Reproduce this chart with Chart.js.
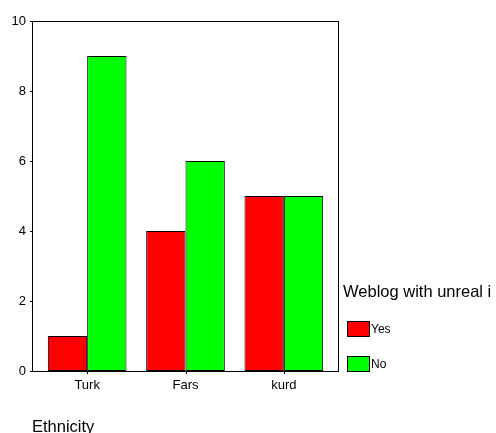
<!DOCTYPE html>
<html>
<head>
<meta charset="utf-8">
<script src="https://cdn.jsdelivr.net/npm/chart.js@4"></script>
<style>
  body { margin: 0; background: #fff; }
  canvas { display: block; }
</style>
</head>
<body>
<canvas id="chart" width="496" height="433"></canvas>
<script>
const categories = ['Turk', 'Fars', 'kurd'];
const yesCounts = [1, 4, 5];
const noCounts = [9, 6, 5];
const yTicks = [0, 2, 4, 6, 8, 10];
const legendTitle = 'Weblog with unreal i';
const axisTitle = 'Ethnicity';

const FONT = '"Liberation Sans", Arial, sans-serif';

// frame, axis ticks, legend and x title drawn by hand (SPSS look)
const spssDecor = {
  id: 'spssDecor',
  beforeDatasetsDraw(chart) {
    const c = chart.ctx;
    const area = chart.chartArea;
    const y = chart.scales.y;
    const x = chart.scales.x;
    const left = area.left - 6, right = area.right + 5;
    c.save();
    c.strokeStyle = '#000';
    c.lineWidth = 1;
    c.strokeRect(left + 0.5, area.top + 0.5, right - left, area.bottom - area.top);
    c.beginPath();
    yTicks.forEach(v => {
      const py = Math.round(y.getPixelForValue(v)) + 0.5;
      c.moveTo(left - 2, py);
      c.lineTo(left, py);
    });
    categories.forEach((_, i) => {
      const px = Math.round(x.getPixelForTick(i)) + 0.5;
      c.moveTo(px, area.bottom);
      c.lineTo(px, area.bottom + 3);
    });
    c.stroke();
    c.restore();
  },
  afterDraw(chart) {
    const c = chart.ctx;
    c.save();
    c.fillStyle = '#000';
    c.textBaseline = 'alphabetic';
    c.textAlign = 'left';
    c.font = '16.5px ' + FONT;
    c.fillText(legendTitle, 343, 297);
    c.fillText(axisTitle, 32, 432);
    c.font = '12px ' + FONT;
    c.textBaseline = 'middle';
    chart.data.datasets.forEach((ds, i) => {
      const top = 321 + i * 35;
      c.fillStyle = ds.backgroundColor;
      c.fillRect(347, top, 23, 16);
      c.strokeStyle = '#000';
      c.strokeRect(347.5, top + 0.5, 22, 15);
      c.fillStyle = '#000';
      c.fillText(ds.label, 371, top + 9);
    });
    c.restore();
  }
};

new Chart(document.getElementById('chart'), {
  type: 'bar',
  data: {
    labels: categories,
    datasets: [
      { label: 'Yes', data: yesCounts, backgroundColor: '#ff0000', borderColor: '#000', borderWidth: 1, borderSkipped: false },
      { label: 'No', data: noCounts, backgroundColor: '#00ff00', borderColor: '#000', borderWidth: 1, borderSkipped: false }
    ]
  },
  options: {
    responsive: false,
    animation: false,
    layout: { padding: { top: 21, right: 163, bottom: 0, left: 0 } },
    datasets: { bar: { categoryPercentage: 0.8, barPercentage: 1 } },
    plugins: { legend: { display: false }, tooltip: { enabled: false } },
    scales: {
      x: {
        grid: { display: false, drawTicks: false },
        border: { display: false },
        ticks: { color: '#000', padding: 7, font: { family: FONT, size: 13 } },
        afterFit: s => { s.height = 62; }
      },
      y: {
        min: 0,
        max: 10,
        afterBuildTicks: s => { s.ticks = yTicks.map(v => ({ value: v })); },
        grid: { display: false, drawTicks: false },
        border: { display: false },
        ticks: { color: '#000', padding: 12, font: { family: FONT, size: 13 } },
        afterFit: s => { s.width = 38; }
      }
    }
  },
  plugins: [spssDecor]
});
</script>
</body>
</html>
